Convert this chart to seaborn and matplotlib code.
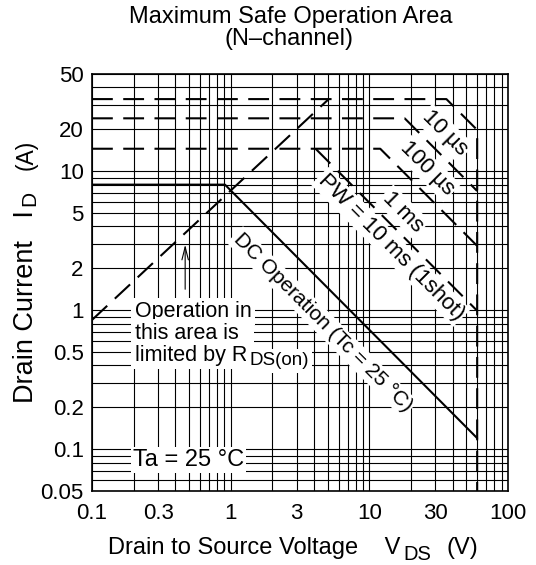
import matplotlib
matplotlib.use("Agg")
import matplotlib.pyplot as plt
import matplotlib.ticker as mticker
import seaborn as sns

# 各ラインのデータ (V [V], I [A])
dc_v = [0.1, 0.91, 60]
dc_i = [8.0, 8.0, 0.12]
rds_v = [0.1, 5.1]
rds_i = [0.85, 33.0]
pw10us_v = [0.1, 36.0, 60, 60]
pw10us_i = [33.0, 33.0, 19.8, 0.05]
pw100us_v = [0.1, 18.0, 60]
pw100us_i = [24.0, 24.0, 7.2]
pw1ms_v = [0.1, 12.0, 60]
pw1ms_i = [14.5, 14.5, 2.9]
pw10ms_v = [4.1, 60]
pw10ms_i = [14.5, 0.99]

x_ticks = [0.1, 0.3, 1, 3, 10, 30, 100]
x_labels = ["0.1", "0.3", "1", "3", "10", "30", "100"]
y_ticks = [0.05, 0.1, 0.2, 0.5, 1, 2, 5, 10, 20, 50]
y_labels = ["0.05", "0.1", "0.2", "0.5", "1", "2", "5", "10", "20", "50"]

sns.set_style("white")
plt.rcParams["font.family"] = ["Liberation Sans", "DejaVu Sans"]
for k in ["text.color", "axes.labelcolor", "xtick.color", "ytick.color"]:
    plt.rcParams[k] = "black"
plt.rcParams["font.size"] = 15.5

fig = plt.figure(figsize=(5.36, 5.65), dpi=100)
ax = fig.add_axes([0.1716, 0.131, 0.776, 0.738])

dash = (0, (10, 5))
line_kw = dict(ax=ax, color="black", linewidth=1.5, sort=False, estimator=None, legend=False)
sns.lineplot(x=dc_v, y=dc_i, **line_kw)
for v, i in [(rds_v, rds_i), (pw10us_v, pw10us_i), (pw100us_v, pw100us_i),
             (pw1ms_v, pw1ms_i), (pw10ms_v, pw10ms_i)]:
    sns.lineplot(x=v, y=i, linestyle=dash, **line_kw)

ax.set_xscale("log")
ax.set_yscale("log")
ax.set_xlim(0.1, 100)
ax.set_ylim(0.05, 50)

ax.xaxis.set_major_locator(mticker.FixedLocator(x_ticks))
ax.xaxis.set_major_formatter(mticker.FixedFormatter(x_labels))
ax.yaxis.set_major_locator(mticker.FixedLocator(y_ticks))
ax.yaxis.set_major_formatter(mticker.FixedFormatter(y_labels))
ax.xaxis.set_minor_locator(mticker.LogLocator(base=10, subs="all", numticks=20))
ax.yaxis.set_minor_locator(mticker.LogLocator(base=10, subs="all", numticks=20))
ax.xaxis.set_minor_formatter(mticker.NullFormatter())
ax.yaxis.set_minor_formatter(mticker.NullFormatter())
ax.tick_params(which="both", length=0, labelsize=16)
ax.tick_params(axis="x", pad=9)
ax.tick_params(axis="y", pad=6)
ax.set_xlabel("")
ax.set_ylabel("")

# 罫線 (対数の全目盛)
ax.set_axisbelow(True)
ax.grid(which="both", color="black", linewidth=0.8)
for s in ax.spines.values():
    s.set_color("black")
    s.set_linewidth(1.2)

box = dict(facecolor="white", edgecolor="none", pad=1.5)
rot = dict(rotation=-45, ha="center", va="center", bbox=box, rotation_mode="anchor", fontsize=16)
ax.text(35, 18.8, "10 µs", **rot)
ax.text(26, 10.5, "100 µs", **rot)
ax.text(17.5, 5.1, "1 ms", **rot)
ax.text(14.3, 2.85, "PW = 10 ms (1shot)", **rot)
ax.text(4.6, 0.82, "DC Operation (Tc = 25 °C)", rotation=-45, ha="center", va="center",
        bbox=box, rotation_mode="anchor", fontsize=15)

# R_DS(on) の注記 (添字は少し小さく下げる)
box2 = dict(facecolor="white", edgecolor="none", pad=2.5)
ax.text(0.204, 0.893, "Operation in", ha="left", va="baseline", bbox=box2)
ax.text(0.204, 0.621, "this area is  ", ha="left", va="baseline", bbox=box2)
t3 = ax.text(0.204, 0.431, "limited by R", ha="left", va="baseline", bbox=box2)
ax.annotate("DS(on)", xy=(1, 0.431), xycoords=(t3, "data"), xytext=(1.5, -3),
            textcoords="offset points", ha="left", va="baseline", fontsize=13.5, bbox=box2)
ax.text(0.198, 0.0835, "Ta = 25 °C", ha="left", va="center", bbox=box, fontsize=17)
ax.annotate("", xy=(0.47, 3.1), xytext=(0.47, 1.35),
            arrowprops=dict(arrowstyle="->,head_length=0.6,head_width=0.15", color="black", lw=0.8))

# 軸ラベル
tx = fig.text(0.2015, 0.0195, "Drain to Source Voltage    V", ha="left", va="baseline", fontsize=17)
tds = ax.annotate("DS", xy=(1, 0.0195), xycoords=(tx, "figure fraction"), xytext=(2, -4.5),
                  textcoords="offset points", ha="left", va="baseline", fontsize=14.5,
                  annotation_clip=False)
ax.annotate("(V)", xy=(1, 0.0195), xycoords=(tds, "figure fraction"), xytext=(11, 0),
            textcoords="offset points", ha="left", va="baseline", fontsize=17,
            annotation_clip=False)

ty = fig.text(0.0616, 0.2867, "Drain Current   I", rotation=90, rotation_mode="anchor",
              ha="left", va="baseline", fontsize=19.5)
td = ax.annotate("D", xy=(0.0616, 1), xycoords=("figure fraction", ty), xytext=(1.5, 3),
                 textcoords="offset points", rotation=90, rotation_mode="anchor",
                 ha="left", va="baseline", fontsize=15, annotation_clip=False)
ax.annotate("(A)", xy=(0.0616, 1), xycoords=("figure fraction", td), xytext=(0, 15),
            textcoords="offset points", rotation=90, rotation_mode="anchor",
            ha="left", va="baseline", fontsize=16.5, annotation_clip=False)

fig.text(0.543, 0.970, "Maximum Safe Operation Area", ha="center", va="center", fontsize=17)
fig.text(0.540, 0.931, "(N–channel)", ha="center", va="center", fontsize=17)

plt.savefig("out.png", dpi=100)
